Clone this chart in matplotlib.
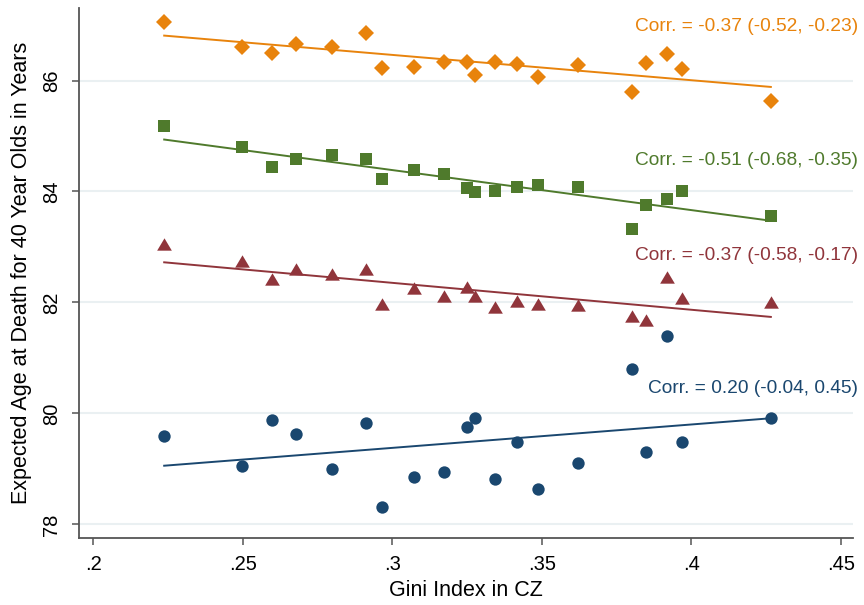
#!/usr/bin/env python3
"""Life expectancy at 40 vs. Gini index by CZ, with linear fits per group."""

import numpy as np
import matplotlib
matplotlib.use("Agg")
import matplotlib.pyplot as plt

# Gini ventiles (same x for every group)
gini = [0.2237, 0.2496, 0.2599, 0.2678, 0.2798, 0.2912, 0.2965, 0.3072, 0.3174, 0.3250,
        0.3278, 0.3345, 0.3418, 0.3486, 0.3622, 0.3801, 0.3848, 0.3918, 0.3970, 0.4266]

age_orange = [87.06, 86.61, 86.49, 86.65, 86.60, 86.85, 86.22, 86.24, 86.34, 86.34,
              86.10, 86.34, 86.30, 86.06, 86.28, 85.79, 86.31, 86.47, 86.21, 85.64]
age_green = [85.18, 84.80, 84.45, 84.59, 84.65, 84.59, 84.22, 84.38, 84.32, 84.06,
             83.99, 84.01, 84.08, 84.11, 84.09, 83.32, 83.76, 83.86, 84.01, 83.55]
age_red = [83.05, 82.75, 82.43, 82.61, 82.51, 82.61, 81.98, 82.26, 82.12, 82.28,
           82.12, 81.92, 82.02, 81.98, 81.95, 81.76, 81.69, 82.46, 82.08, 82.00]
age_blue = [79.60, 79.05, 79.89, 79.63, 79.00, 79.82, 78.32, 78.86, 78.95, 79.75,
            79.92, 78.82, 79.49, 78.63, 79.11, 80.80, 79.31, 81.39, 79.49, 79.91]

corr_labels = ["Corr. = -0.37 (-0.52, -0.23)",
               "Corr. = -0.51 (-0.68, -0.35)",
               "Corr. = -0.37 (-0.58, -0.17)",
               "Corr. = 0.20 (-0.04, 0.45)"]
label_y = [86.98, 84.55, 82.85, 80.45]

x_ticks = [0.2, 0.25, 0.3, 0.35, 0.4, 0.45]
x_ticklabels = [".2", ".25", ".3", ".35", ".4", ".45"]
y_ticks = [78, 80, 82, 84, 86]

plt.rcParams["font.family"] = ["Liberation Sans", "DejaVu Sans"]

# slightly flattened triangle
tri = [(0, 0.84), (-1, -0.84), (1, -0.84)]

series = [
    (age_orange, "#E8830C", "D", 8.6),
    (age_green, "#4F7A2C", "s", 8.6),
    (age_red, "#90353B", tri, 10.6),
    (age_blue, "#1A476F", "o", 8.9),
]

fig = plt.figure(figsize=(8.64, 6.05), dpi=100)
ax = fig.add_axes([0.0914, 0.111, 0.8956, 0.876])

x = np.array(gini)
xs = np.array([x.min(), x.max()])
for (vals, color, marker, ms), text, ty in zip(series, corr_labels, label_y):
    y = np.array(vals)
    ax.plot(x, y, linestyle="none", marker=marker, markersize=ms,
            color=color, markeredgewidth=0, zorder=3)
    slope, icpt = np.polyfit(x, y, 1)
    ax.plot(xs, icpt + slope * xs, color=color, linewidth=1.4, zorder=2)
    ax.text(0.4557, ty, text, color=color, fontsize=13.8, ha="right", va="center")

ax.set_xlim(0.1952, 0.454)
ax.set_ylim(77.757, 87.31)
ax.set_xticks(x_ticks)
ax.set_xticklabels(x_ticklabels)
ax.set_yticks(y_ticks)
ax.set_yticklabels([str(v) for v in y_ticks], rotation=90, va="center")

ax.grid(axis="y", color="#EAF0F2", linewidth=1.5, zorder=0)
ax.set_axisbelow(True)
for side in ("top", "right"):
    ax.spines[side].set_visible(False)
for side in ("left", "bottom"):
    ax.spines[side].set_color("#555555")
    ax.spines[side].set_linewidth(1.3)
ax.tick_params(direction="out", length=5, width=1.1, color="#555555",
               labelsize=14.5, labelcolor="black")
ax.tick_params(axis="x", pad=7)
ax.tick_params(axis="y", pad=8)

ax.set_xlabel("Gini Index in CZ", fontsize=15.5, labelpad=5)
ax.set_ylabel("Expected Age at Death for 40 Year Olds in Years", fontsize=15.5, labelpad=7)

fig.savefig("out.png", dpi=100)
